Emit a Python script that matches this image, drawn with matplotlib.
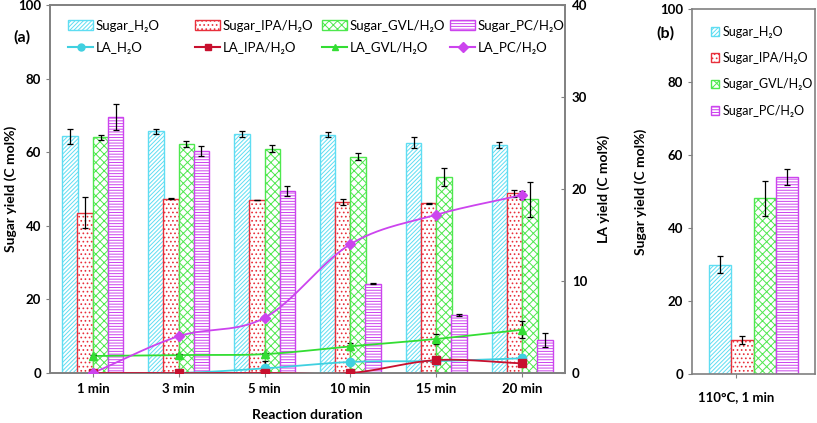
import numpy as np
import matplotlib
matplotlib.use("Agg")
import matplotlib.pyplot as plt
from matplotlib.patches import Patch
from matplotlib.lines import Line2D

plt.rcParams['font.family'] = ['Lato', 'DejaVu Sans']
plt.rcParams['hatch.linewidth'] = 0.7

times = ["1 min", "3 min", "5 min", "10 min", "15 min", "20 min"]

# sugar yields (left axis)
sugar_h2o = [64.3, 65.7, 65.0, 64.8, 62.6, 61.9]
sugar_h2o_err = [2.0, 0.7, 0.8, 0.6, 1.5, 0.8]
sugar_ipa = [43.5, 47.4, 47.0, 46.4, 46.1, 48.8]
sugar_ipa_err = [4.2, 0.2, 0.1, 0.8, 0.1, 1.0]
sugar_gvl = [64.0, 62.2, 61.0, 58.8, 53.2, 47.2]
sugar_gvl_err = [0.7, 0.9, 1.0, 0.9, 2.5, 4.8]
sugar_pc = [69.5, 60.4, 49.4, 24.3, 15.7, 9.1]
sugar_pc_err = [3.5, 1.4, 1.3, 0.2, 0.3, 1.9]

# LA yields (right axis)
la_h2o = [0.0, 0.0, 0.5, 1.2, 1.3, 1.6]
la_h2o_err = [0, 0, 0.8, 0.2, 0.2, 0.4]
la_ipa = [0.0, 0.0, 0.0, 0.0, 1.4, 1.05]
la_ipa_err = [0, 0, 0, 0, 0.1, 0.1]
la_gvl = [1.85, 1.95, 2.05, 2.9, 3.7, 4.7]
la_gvl_err = [0.1, 0.1, 0.1, 0.4, 0.5, 0.9]
la_pc = [0.0, 4.0, 6.0, 14.0, 17.2, 19.35]
la_pc_err = [0, 0.2, 0.2, 0.2, 0.2, 0.4]

# panel (b): 110 C, 1 min
b_label = "110°C, 1 min"
b_sugar = [29.9, 9.3, 48.2, 54.0]
b_sugar_err = [2.3, 1.0, 4.8, 2.2]

names = ["H₂O", "IPA/H₂O", "GVL/H₂O", "PC/H₂O"]
bar_cols = ["#5FDDF2", "#E8303C", "#4EE84E", "#CC44EE"]
hatches = ["////////", "....", "xxxx", "------"]
line_cols = ["#40D0E0", "#C8102E", "#33DD33", "#CC44EE"]
markers = ["o", "s", "^", "D"]
spine_col = "#808080"
W, H = 817, 423


def smooth(xs, ys, n=30):
    # catmull-rom curve through the points (like excel "smoothed line")
    xs = np.asarray(xs, float)
    ys = np.asarray(ys, float)
    px = np.concatenate([[2 * xs[0] - xs[1]], xs, [2 * xs[-1] - xs[-2]]])
    py = np.concatenate([[2 * ys[0] - ys[1]], ys, [2 * ys[-1] - ys[-2]]])
    ox, oy = [], []
    t = np.linspace(0, 1, n)
    for i in range(1, len(px) - 2):
        for p, o in ((px, ox), (py, oy)):
            p0, p1, p2, p3 = p[i - 1], p[i], p[i + 1], p[i + 2]
            o.extend(0.5 * ((2 * p1) + (-p0 + p2) * t
                            + (2 * p0 - 5 * p1 + 4 * p2 - p3) * t ** 2
                            + (-p0 + 3 * p1 - 3 * p2 + p3) * t ** 3))
    return ox, oy


def style_axes(ax):
    for s in ax.spines.values():
        s.set_color(spine_col)
        s.set_linewidth(1.2)
    ax.tick_params(colors=spine_col, labelcolor="black", length=3)


def bold_ticks(ax, size=9.5):
    for lab in ax.get_yticklabels() + ax.get_xticklabels():
        lab.set_fontweight("bold")
        lab.set_fontsize(size)


fig = plt.figure(figsize=(W / 100, H / 100), dpi=100)

# ---- panel (a)
ax_w, ax_h = 515, 368
ax = fig.add_axes([50 / W, 50 / H, ax_w / W, ax_h / H])
x = np.arange(len(times))
w = 0.18
offs = [-0.265, -0.09, 0.09, 0.265]
sugars = [sugar_h2o, sugar_ipa, sugar_gvl, sugar_pc]
sugar_errs = [sugar_h2o_err, sugar_ipa_err, sugar_gvl_err, sugar_pc_err]
for i in range(4):
    ax.bar(x + offs[i], sugars[i], w, color="white", edgecolor=bar_cols[i],
           hatch=hatches[i], linewidth=1.0)
    ax.errorbar(x + offs[i], sugars[i], yerr=sugar_errs[i], fmt="none",
                ecolor="black", elinewidth=0.9, capsize=2.5, capthick=0.9)
ax.set_xlim(-0.5, len(times) - 0.5)
ax.set_ylim(0, 100)
ax.set_yticks(range(0, 101, 20))
ax.set_xticks(x)
ax.set_xticklabels(times)
ax.tick_params(axis="x", length=0, pad=4)
bold_ticks(ax)
ax.set_ylabel("Sugar yield (C mol%)", fontweight="bold", fontsize=10)
ax.yaxis.set_label_coords(-33 / ax_w, 0.5)
ax.set_xlabel("Reaction duration", fontweight="bold", fontsize=10)
ax.xaxis.set_label_coords(0.5, -36 / ax_h)
style_axes(ax)

ax2 = ax.twinx()
las = [la_h2o, la_ipa, la_gvl, la_pc]
la_errs = [la_h2o_err, la_ipa_err, la_gvl_err, la_pc_err]
for i in range(4):
    sx, sy = smooth(x, las[i])
    ax2.plot(sx, sy, color=line_cols[i], lw=1.3, zorder=3)
    ax2.errorbar(x, las[i], yerr=la_errs[i], fmt="none", ecolor="black",
                 elinewidth=0.9, capsize=2.5, capthick=0.9, zorder=3)
    ax2.plot(x, las[i], ls="none", marker=markers[i], color=line_cols[i],
             markersize=6 if markers[i] != "D" else 5, zorder=4)
ax2.set_ylim(0, 40)
ax2.set_yticks(range(0, 41, 10))
ax2.tick_params(axis="y", direction="in", pad=5)
bold_ticks(ax2)
ax2.set_ylabel("LA yield (C mol%)", fontweight="bold", fontsize=10)
ax2.yaxis.set_label_coords(1 + 32 / ax_w, 0.5)
style_axes(ax2)

# legend: one column per solvent, evenly spaced like the original
col_x = [68, 195, 322, 450]
for i in range(4):
    hs = [Patch(facecolor="white", edgecolor=bar_cols[i], hatch=hatches[i]),
          Line2D([], [], color=line_cols[i], marker=markers[i], markersize=5)]
    ls = ["Sugar_" + names[i], "LA_" + names[i]]
    leg = ax2.legend(hs, ls, frameon=False, loc="upper left",
                     bbox_to_anchor=((col_x[i] - 50) / ax_w, 0.96),
                     fontsize=9.5, handlelength=1.9, handletextpad=0.2,
                     labelspacing=0.75, borderaxespad=0, borderpad=0)
    if i < 3:
        ax2.add_artist(leg)

fig.text(22 / W, 1 - 37 / H, "(a)", fontweight="bold", fontsize=11.5,
         ha="center", va="center")

# ---- panel (b)
bx_w, bx_h = 123, 365
bx = fig.add_axes([692 / W, 49 / H, bx_w / W, bx_h / H])
boffs = [-0.27, -0.09, 0.09, 0.27]
for i in range(4):
    bx.bar(boffs[i], b_sugar[i], w, color="white", edgecolor=bar_cols[i],
           hatch=hatches[i], linewidth=1.0, label="Sugar_" + names[i])
    bx.errorbar(boffs[i], b_sugar[i], yerr=b_sugar_err[i], fmt="none",
                ecolor="black", elinewidth=0.9, capsize=2.5, capthick=0.9)
bx.set_xlim(-0.5, 0.5)
bx.set_ylim(0, 100)
bx.set_yticks(range(0, 101, 20))
bx.set_xticks([-0.14])
bx.set_xticklabels([b_label])
bx.tick_params(axis="x", length=0, pad=9)
bold_ticks(bx)
bx.set_ylabel("Sugar yield (C mol%)", fontweight="bold", fontsize=10)
bx.yaxis.set_label_coords(-45 / bx_w, 0.5)
style_axes(bx)
bx.legend(frameon=False, loc="upper left", bbox_to_anchor=(0.11, 0.968),
          fontsize=9, handlelength=0.7, handleheight=0.7, handletextpad=0.3,
          labelspacing=1.15, borderaxespad=0)

fig.text(665 / W, 1 - 33 / H, "(b)", fontweight="bold", fontsize=11.5,
         ha="center", va="center")

fig.savefig("out.png", dpi=100)
